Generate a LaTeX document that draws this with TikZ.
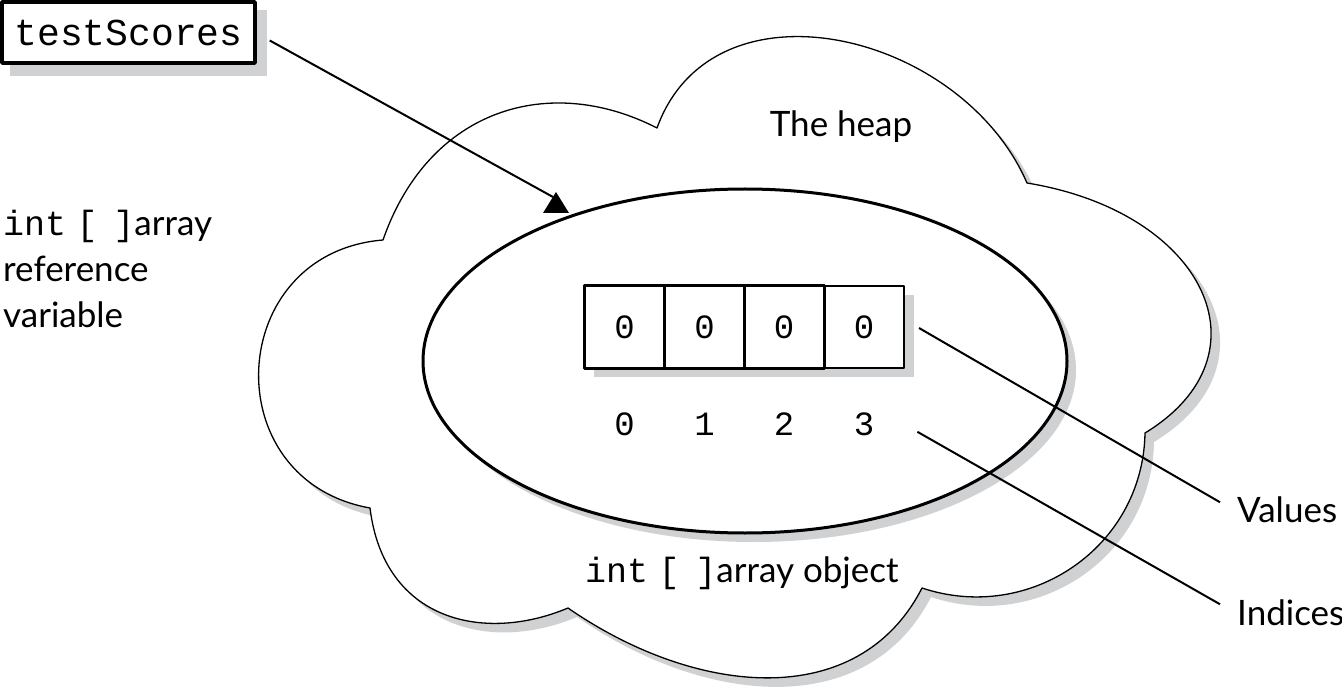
\documentclass[tikz,border=0pt]{standalone}
\usepackage{fontspec}
\setmainfont{Lato}
\setmonofont{Liberation Mono}

\definecolor{shadowgray}{RGB}{208,209,211}
\newcommand{\arrtype}{{\fontsize{35}{40}\selectfont\ttfamily int\hspace{0.3em}[\hspace{0.45em}]}}

\begin{document}
\begin{tikzpicture}[x=1pt, y=-1pt, line join=round,
  dropshadow/.style={preaction={fill=shadowgray, draw=none, transform canvas={shift={(9pt,-9pt)}}}},
  cell/.style={draw, fill=white, minimum width=80pt, minimum height=82pt, inner sep=0pt,
               font=\fontsize{34}{40}\selectfont\ttfamily},
  idx/.style={inner sep=0pt, anchor=base, font=\fontsize{34}{40}\selectfont\ttfamily},
  lbl/.style={inner sep=0pt, font=\fontsize{35}{46}\selectfont},
  lead/.style={line width=2pt}]

  %% ════ heap cloud ════
  \draw[line width=1.3pt, fill=white, dropshadow]
    (370,508) .. controls (214,480) and (225,253) .. (383,240)
              .. controls (429,108) and (550,73) .. (657,128)
              .. controls (713,-27) and (961,31) .. (1027,183)
              .. controls (1205,212) and (1273,355) .. (1145,433)
              .. controls (1143,547) and (1030,624) .. (922,588)
              .. controls (858,713) and (695,696) .. (568,608)
              .. controls (485,643) and (384,622) .. (370,508) -- cycle;
  \node[lbl, anchor=base] (heap) at (841,137) {The heap};

  %% ════ array object ════
  \draw[line width=3pt, fill=white, dropshadow] (745,361) ellipse (322 and 172);
  \fill[shadowgray] (594,295) rectangle (914,377);
  \node[cell, line width=2pt] (c3) at (864,327) {0};
  \foreach \i/\x in {0/624.5, 1/704.5, 2/784}
    \node[cell, line width=3pt] (c\i) at (\x,327) {0};
  \foreach \i/\x in {0/624.5, 1/704.5, 2/784, 3/864}
    \node[idx] (i\i) at (\x,435) {\i};
  \node[lbl, anchor=base west] (objlbl) at (585,582) {\arrtype array object};

  %% ════ reference variable ════
  \fill[shadowgray] (10,10) rectangle (267,76);
  \node[draw, line width=3.5pt, fill=white, minimum width=253pt, minimum height=61pt,
        inner sep=0pt, font=\fontsize{38}{44}\selectfont\ttfamily] (ref) at (128.5,32.5) {testScores};
  \node[lbl, align=left, anchor=north west] (reflbl) at (3,210) {\arrtype array\\reference\\variable};

  %% ════ labels on the right ════
  \node[lbl, anchor=base west] (val) at (1237,522) {Values};
  \node[lbl, anchor=base west] (ind) at (1237,625) {Indices};

  %% ════ connectors ════
  \coordinate (tip) at (553,197);
  \draw[lead] ([shift={(13,8)}]ref.east) -- (tip);
  \fill (543,213) -- (556,192) -- (569,213) -- cycle;
  \draw[lead] ([shift={(14,1)}]c3.east) -- ([shift={(-17,-7)}]val.west);
  \draw[lead] ([shift={(43,8)}]i3.east) -- ([shift={(-17,-8)}]ind.west);

  \pgfresetboundingbox
  \path[use as bounding box] (0,0) rectangle (1342,687);
\end{tikzpicture}
\end{document}
